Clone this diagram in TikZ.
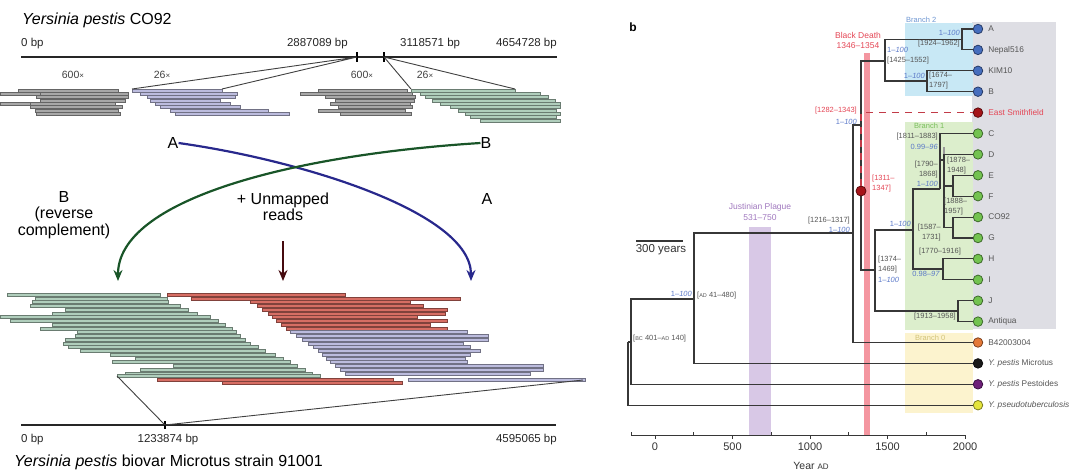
\documentclass[tikz,border=0pt]{standalone}
\usepackage{fontspec}
\setmainfont{Liberation Sans}
\usetikzlibrary{arrows.meta,positioning}

\definecolor{treegrey}{RGB}{55,55,55}
\definecolor{labgrey}{RGB}{85,85,85}
\definecolor{suppblue}{RGB}{90,120,200}
\definecolor{bdred}{RGB}{228,70,85}
\definecolor{bdband}{RGB}{244,150,160}
\definecolor{jpurple}{RGB}{160,120,190}
\definecolor{jpband}{RGB}{216,200,230}
\definecolor{boxtwo}{RGB}{200,232,245}
\definecolor{boxone}{RGB}{220,238,204}
\definecolor{boxzero}{RGB}{252,243,206}
\definecolor{boxgrey}{RGB}{222,222,228}
\definecolor{brtwo}{RGB}{110,150,210}
\definecolor{brone}{RGB}{120,190,90}
\definecolor{brzero}{RGB}{210,195,120}
\definecolor{dotblue}{RGB}{70,110,190}
\definecolor{dotred}{RGB}{165,20,25}
\definecolor{dotgreen}{RGB}{115,195,80}
\definecolor{dotorange}{RGB}{228,120,55}
\definecolor{dotblack}{RGB}{25,25,25}
\definecolor{dotpurple}{RGB}{110,30,120}
\definecolor{dotyellow}{RGB}{228,228,60}
\definecolor{readgrey}{RGB}{168,168,168}
\definecolor{readlav}{RGB}{188,188,222}
\definecolor{readgreen}{RGB}{176,206,188}
\definecolor{readred}{RGB}{215,110,100}
\definecolor{arrblue}{RGB}{40,40,140}
\definecolor{arrgreen}{RGB}{25,85,40}
\definecolor{arrred}{RGB}{70,10,15}

\begin{document}
\begin{tikzpicture}[x=1pt,y=-1pt]
\tikzset{
  read/.style={draw=#1!60!black, fill=#1, line width=0.3pt},
  branch/.style={draw=treegrey, line width=1.1pt},
  tipdot/.style={circle, draw=#1!55!black, fill=#1, line width=0.8pt,
    minimum size=9.5pt, inner sep=0pt},
  tiplab/.style={font=\fontsize{8.3}{9}\selectfont, text=labgrey, inner sep=0pt},
  datelab/.style={font=\fontsize{7.5}{9.5}\selectfont, text=labgrey,
    inner sep=0pt, align=#1},
  datelab/.default=left,
  supplab/.style={font=\fontsize{7.5}{9}\selectfont, text=suppblue, inner sep=0pt},
  big/.style={font=\fontsize{16}{16.5}\selectfont, inner sep=0pt},
  bplab/.style={font=\fontsize{11.5}{12}\selectfont, text=black!85, inner sep=0pt},
  covlab/.style={font=\fontsize{10.5}{11}\selectfont, text=black!75, inner sep=0pt},
  bigarrow/.style={-{Stealth[length=11pt,width=9pt]}, line width=2.2pt, draw=#1},
  axlab/.style={font=\fontsize{11}{12}\selectfont, text=black!80, inner sep=0pt},
  boxlab/.style={font=\fontsize{7.5}{9}\selectfont, inner sep=0pt, anchor=west},
}
\useasboundingbox (0,0) rectangle (1080,474);

% ---------- a: CO92 on top
\node[big, anchor=west] (ttlTop) at (22,20) {\textit{Yersinia pestis} CO92};
\node[bplab, anchor=west] (bpA0) at (21,44) {0 bp};
\node[bplab, anchor=east] (bpA1) at (348,44) {2887089 bp};
\node[bplab, anchor=west] (bpA2) at (400,44) {3118571 bp};
\node[bplab, anchor=east] (bpA3) at (557,44) {4654728 bp};
\coordinate (topL) at (21,57);
\coordinate (topR) at (557,57);
\coordinate (tick1) at (357,57);
\coordinate (tick2) at (384,57);
\draw[line width=1.6pt, black!85] (topL) -- (topR);
\draw[line width=1.3pt] (tick1) ++(0,-5) -- ++(0,10);
\draw[line width=1.3pt] (tick2) ++(0,-5) -- ++(0,10);

\node[covlab] (cov1) at (73,75) {600{\footnotesize ×}};
\node[covlab] (cov2) at (162,75) {26{\footnotesize ×}};
\node[covlab] (cov3) at (362,75) {600{\footnotesize ×}};
\node[covlab] (cov4) at (425,75) {26{\footnotesize ×}};

% pile-ups
\foreach \xa/\xb/\k in {18/118/0,0/40/1,40/128/1,36/128/2,40/125/3,0/30/4,
    30/115/4,30/122/5,35/118/6,36/120/7}
  \path[read=readgrey] (\xa,{89+3.3*\k}) rectangle (\xb,{92+3.3*\k});
\foreach \xa/\xb/\k in {132/222/0,140/237/1,147/235/2,150/220/3,155/230/4,
    160/240/5,170/268/6,175/289/7}
  \path[read=readlav] (\xa,{89+3.3*\k}) rectangle (\xb,{92+3.3*\k});
\foreach \xa/\xb/\k in {318/407/0,300/412/1,325/415/2,335/414/3,330/410/4,
    338/412/5,318/405/6,340/411/7}
  \path[read=readgrey] (\xa,{89+3.3*\k}) rectangle (\xb,{92+3.3*\k});
\foreach \xa/\xb/\k in {411/515/0,420/540/1,425/548/2,432/555/3,440/560/4,
    450/560/5,458/556/6,465/560/7,470/556/8,480/560/9}
  \path[read=readgreen] (\xa,{89+3.3*\k}) rectangle (\xb,{92+3.3*\k});

\coordinate (lavL) at (132,89);
\coordinate (lavR) at (222,89);
\coordinate (grnL) at (411,89);
\coordinate (grnR) at (515,89);
\draw[line width=0.9pt, black!75] (lavL) -- (tick1) -- (lavR);
\draw[line width=0.9pt, black!75] (grnL) -- (tick2) -- (grnR);

% crossing arrows
\node[big] (labA) at (173,143) {A};
\node[big] (labB) at (486,143) {B};
\coordinate (tipA) at (471,281);
\coordinate (tipB) at (118,281);
\draw[bigarrow=arrblue] (labA.east) .. controls (300,160) and (471,212) .. (tipA);
\draw[bigarrow=arrgreen] (labB.west) .. controls (290,155) and (118,200) .. (tipB);
\node[big, align=center] (lblB) at (64,215) {B\\(reverse\\complement)};
\node[big, align=center] (lblU) at (283,207) {+ Unmapped\\reads};
\node[big] (lblA) at (487,199) {A};
\coordinate (unTop) at (283,241);
\coordinate (unTip) at (283,281);
\draw[bigarrow=arrred, line width=2.5pt] (unTop) -- (unTip);

% ---------- a: Microtus 91001 below
\foreach \xa/\xb [count=\k from 0] in {7/160,35/167,32/168,30/180,65/188,52/197,
    0/210,10/218,52/225,40/232,77/236,75/240,65/245,63/250,68/258,80/265,
    110/275,135/283,112/290,173/297,140/305,125/312}
  \path[read=readgreen] (\xa,{293+3.75*\k}) rectangle (\xb,{296+3.75*\k});
\foreach \xa/\xb [count=\k from 0] in {167/345,191/460,250/410,257/423,262/447,
    268/445,272/417,276/447,281/430,286/447}
  \path[read=readred] (\xa,{293+3.75*\k}) rectangle (\xb,{296+3.75*\k});
\foreach \xa/\xb [count=\k from 10] in {290/467,296/488,302/488,308/463,313/470,
    318/480,322/470,326/465,330/467,335/543,340/543,345/530}
  \path[read=readlav] (\xa,{293+3.75*\k}) rectangle (\xb,{296+3.75*\k});
\path[read=readgreen] (117,374.5) rectangle (320,377.5);
\path[read=readred] (157,378) rectangle (393,381);
\path[read=readred] (222,381.5) rectangle (402,384.5);
\path[read=readlav] (408,378) rectangle (585,381);

\coordinate (botL) at (21,425);
\coordinate (botR) at (556,425);
\coordinate (tick3) at (165,425);
\coordinate (grnEnd) at (117,376);
\coordinate (lavEnd) at (583,380);
\draw[line width=1.6pt, black!85] (botL) -- (botR);
\draw[line width=1.3pt] (tick3) ++(0,-4) -- ++(0,8);
\draw[line width=0.9pt, black!75] (grnEnd) -- (tick3) -- (lavEnd);
\node[bplab, anchor=west] (bpB0) at (21,440) {0 bp};
\node[bplab] (bpB1) at (168,440) {1233874 bp};
\node[bplab, anchor=east] (bpB2) at (557,440) {4595065 bp};
\node[big, anchor=west] (ttlBot) at (14,462)
  {\textit{Yersinia pestis} biovar Microtus strain 91001};

% ---------- b: dated tree
\node[font=\bfseries\fontsize{12}{12}\selectfont, inner sep=0pt] (panelb) at (633,27) {b};

% shaded boxes and periods
\fill[boxgrey] (972,22) rectangle (1056,329);
\fill[boxtwo] (905,23) rectangle (973,96);
\fill[boxone] (905,122) rectangle (973,330);
\fill[boxzero] (905,333) rectangle (973,413);
\node[boxlab, text=brtwo] (br2) at (906,20) {Branch 2};
\node[boxlab, text=brone] (br1) at (914,126) {Branch 1};
\node[boxlab, text=brzero] (br0) at (915,338) {Branch 0};
\fill[jpband] (749,227) rectangle (771,435);
\fill[bdband] (864,53) rectangle (869.5,435);
\node[font=\fontsize{8.5}{9}\selectfont, text=jpurple, inner sep=0pt] (jpName) at (760,207) {Justinian Plague};
\node[font=\fontsize{8.5}{9}\selectfont, text=jpurple, inner sep=0pt] (jpYears) at (760,218) {531--750};
\node[font=\fontsize{8.5}{9}\selectfont, text=bdred, inner sep=0pt] (bdName) at (858,35) {Black Death};
\node[font=\fontsize{8.5}{9}\selectfont, text=bdred, inner sep=0pt] (bdYears) at (858,46) {1346--1354};

% tips
\foreach \nm/\txt/\col [count=\i from 0] in {A/A/dotblue, Nep/Nepal516/dotblue,
    KIM/KIM10/dotblue, B/B/dotblue, ES/{\textcolor{bdred}{East Smithfield}}/dotred,
    C/C/dotgreen, D/D/dotgreen, E/E/dotgreen, F/F/dotgreen, CO/CO92/dotgreen,
    G/G/dotgreen, H/H/dotgreen, I/I/dotgreen, J/J/dotgreen, Ant/Antiqua/dotgreen,
    Bfour/B42003004/dotorange, Mic/{\textit{Y. pestis} Microtus}/dotblack,
    Pst/{\textit{Y. pestis} Pestoides}/dotpurple,
    Psd/{\textit{Y. pseudotuberculosis}}/dotyellow}
{
  \node[tipdot=\col] (t\nm) at (978,{29+20.9*\i}) {};
  \node[tiplab, right=5pt of t\nm] (l\nm) {\txt};
}

% inner nodes
\coordinate (nRoot) at (628,342);
\coordinate (nBC) at (631,342);
\coordinate (nAD) at (694,299);
\coordinate (n1216) at (853,233);
\coordinate (n1282) at (861,125);
\coordinate (nBr2) at (885,61);
\coordinate (nAN) at (962,39.5);
\coordinate (nKB) at (927,81);
\coordinate (n1374) at (875,270);
\coordinate (nJA) at (958,311);
\coordinate (n1587) at (913,230);
\coordinate (nHI) at (943,269);
\coordinate (n1811) at (940,189);
\coordinate (nD) at (944,160);
\coordinate (nEF) at (953,186);
\coordinate (nCG) at (953,227.5);

\draw[line width=2.6pt, black!40] ([yshift=13pt]nD) -- ([yshift=-8pt]nD);
\draw[branch] (nRoot) |- (tPsd);
\draw[branch] (nRoot) -- (nBC);
\draw[branch] (nBC) |- (nAD);
\draw[branch] (nBC) |- (tPst);
\draw[branch] (nAD) |- (n1216);
\draw[branch] (nAD) |- (tMic);
\draw[branch] (n1216) |- (n1282);
\draw[branch] (n1216) |- (tBfour);
\draw[branch] (n1282) |- (nBr2);
\draw[branch] (n1282) |- (n1374);
\draw[branch] (nBr2) |- (nAN);
\draw[branch] (nBr2) |- (nKB);
\draw[branch] (nAN) |- (tA);
\draw[branch] (nAN) |- (tNep);
\draw[treegrey, line width=2.6pt] (nAN |- tA) -- (nAN |- tNep);
\draw[branch] (nKB) |- (tKIM);
\draw[branch] (nKB) |- (tB);
\draw[branch] (n1374) |- (n1587);
\draw[branch] (n1374) |- (nJA);
\draw[branch] (nJA) |- (tJ);
\draw[branch] (nJA) |- (tAnt);
\draw[branch] (n1587) |- (n1811);
\draw[branch] (n1587) |- (nHI);
\draw[branch] (nHI) |- (tH);
\draw[branch] (nHI) |- (tI);
\draw[branch] (n1811) |- (tC);
\draw[branch] (n1811) |- (nD);
\draw[branch] (nD) |- (tD);
\draw[branch] (nD) |- (nEF);
\draw[branch] (nD) |- (nCG);
\draw[branch] (nEF) |- (tE);
\draw[branch] (nEF) |- (tF);
\draw[branch] (nCG) |- (tCO);
\draw[branch] (nCG) |- (tG);

% East Smithfield
\node[tipdot=dotred, minimum size=10pt] (esdot) at (861,191) {};
\draw[bdred!85!black, line width=1.5pt, dash pattern=on 7pt off 6pt] (esdot) |- (tES);

% dates and support
\node[supplab, anchor=east] (sAN) at (960,33) {1--\textit{100}};
\node[datelab, anchor=east] (dAN) at (960,44) {[1924--1962]};
\node[supplab, anchor=west] (sBr2) at (887,50) {1--\textit{100}};
\node[datelab, anchor=west] (dBr2) at (887,61) {[1425--1552]};
\node[supplab, anchor=east] (sKB) at (925,76) {1--\textit{100}};
\node[datelab, anchor=north west] (dKB) at (929,72) {[1674--\\1797]};
\node[datelab, anchor=east, text=bdred] (d1282) at (857,111) {[1282--1343]};
\node[supplab, anchor=east] (s1282) at (857,122) {1--\textit{100}};
\node[datelab, anchor=north west, text=bdred] (dES) at (872,175) {[1311--\\1347]};
\node[datelab, anchor=east] (d1216) at (850,221) {[1216--1317]};
\node[supplab, anchor=east] (s1216) at (850,230) {1--\textit{100}};
\node[datelab, anchor=north west] (d1374) at (878,256) {[1374--\\1469]};
\node[supplab, anchor=west] (s1374) at (878,280) {1--\textit{100}};
\node[supplab, anchor=east] (s1587) at (911,224) {1--\textit{100}};
\node[datelab=right, anchor=north east] (d1587) at (941,224) {[1587--\\1731]};
\node[datelab, anchor=west] (dHI) at (919,252) {[1770--1916]};
\node[supplab, anchor=east] (sHI) at (940,274) {0.98--\textit{97}};
\node[datelab, anchor=east] (dJA) at (956,317) {[1913--1958]};
\node[datelab, anchor=east] (d1811) at (938,137) {[1811--1883]};
\node[supplab, anchor=east] (s1811) at (938,147) {0.99--\textit{96}};
\node[datelab=right, anchor=north east] (d1790) at (938,161) {[1790--\\1868]};
\node[supplab, anchor=east] (s1790) at (938,184) {1--\textit{100}};
\node[datelab, anchor=north west] (dD) at (947,157) {[1878--\\1948]};
\node[datelab, anchor=north west] (dCG) at (944,198) {[1888--\\1957]};
\node[supplab, anchor=east] (sAD) at (692,294) {1--\textit{100}};
\node[datelab, anchor=west] (dAD) at (697,296)
  {[{\fontsize{5.5}{6}\selectfont AD} 41--480]};
\node[datelab, anchor=west] (dBC) at (633,339)
  {[{\fontsize{5.5}{6}\selectfont BC} 401--{\fontsize{5.5}{6}\selectfont AD} 140]};

% scale bar and time axis
\coordinate (sbL) at (636,241);
\coordinate (sbR) at (682.5,241);
\draw[treegrey, line width=1.3pt] (sbL) -- (sbR);
\node[font=\fontsize{11.5}{12}\selectfont, text=black!80, inner sep=0pt] (sbLab) at (661,250) {300 years};
\coordinate (axL) at (631,435);
\coordinate (axR) at (966,435);
\draw[treegrey, line width=1pt] (axL) -- (axR);
\foreach \yr in {0,500,...,2000} {
  \draw[treegrey, line width=1pt] ({655+0.155*\yr},435) -- ++(0,4);
  \node[axlab, anchor=north] (ax\yr) at ({655+0.155*\yr},443) {\yr};
}
\foreach \yr in {250,750,1250,1750}
  \draw[treegrey, line width=1pt] ({655+0.155*\yr},435) -- ++(0,-3);
\draw[treegrey, line width=1pt] (axL) -- ++(0,-3);
\node[axlab, font=\fontsize{10.5}{12}\selectfont] (axTitle) at (811,466)
  {Year {\fontsize{8}{9}\selectfont AD}};
\end{tikzpicture}
\end{document}
